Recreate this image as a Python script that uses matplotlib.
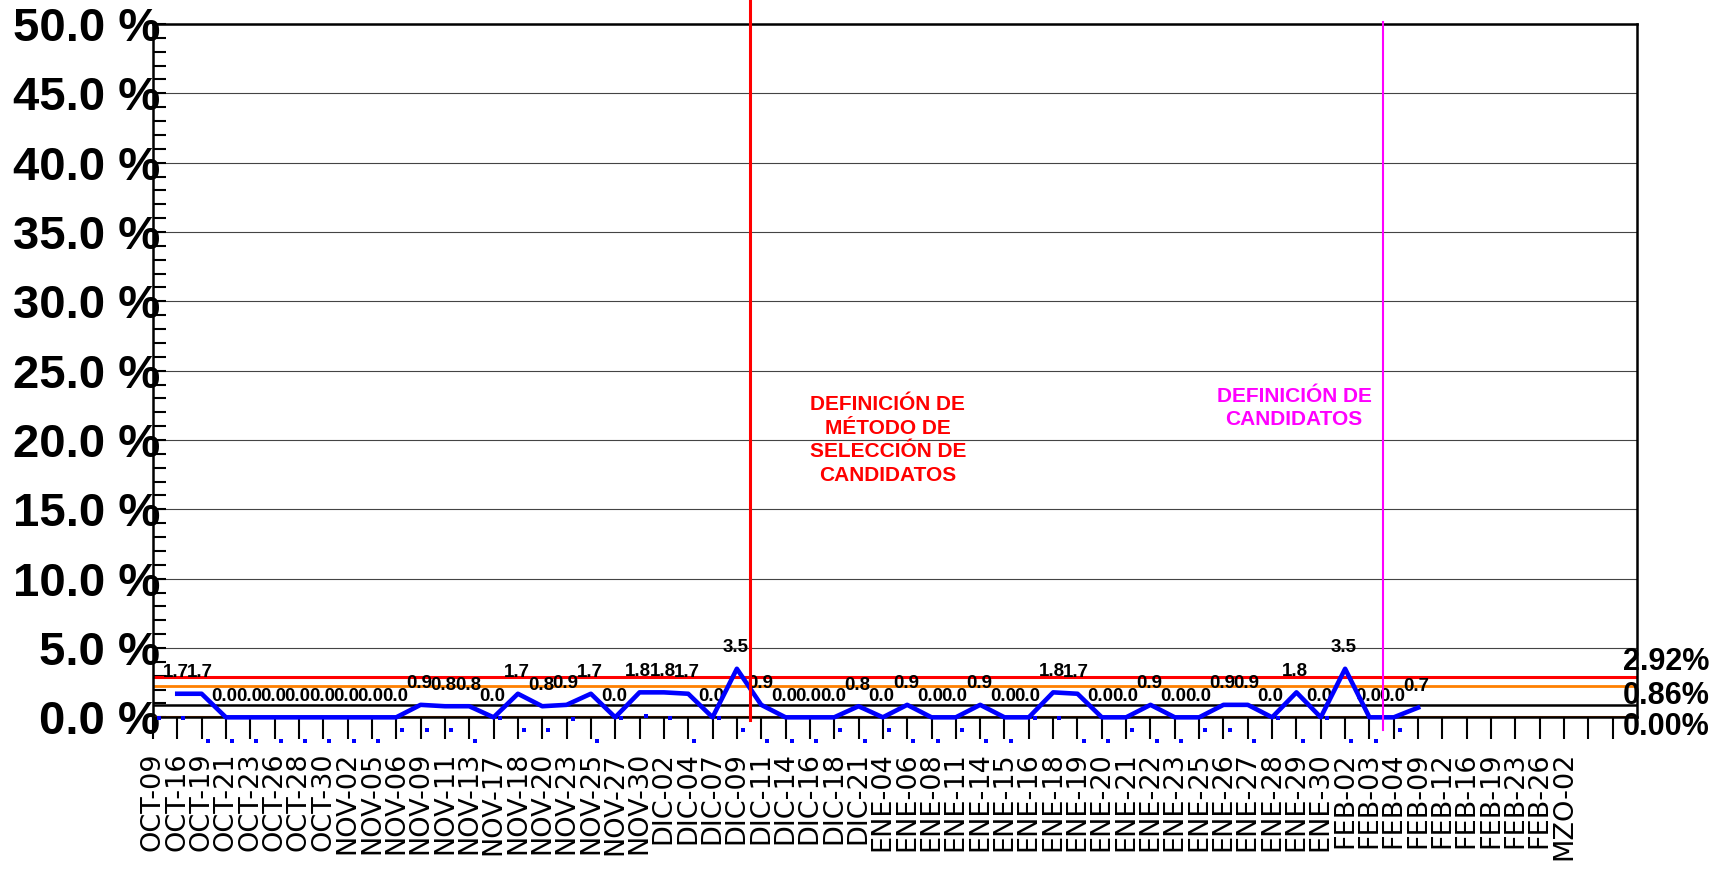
import matplotlib
matplotlib.use('Agg')
import matplotlib.pyplot as plt
from matplotlib.ticker import MultipleLocator
import numpy as np

plt.rcParams['font.family'] = ['Liberation Sans', 'DejaVu Sans']

# fechas del eje x
fechas = ['OCT-09', 'OCT-16', 'OCT-19', 'OCT-21', 'OCT-23', 'OCT-26', 'OCT-28', 'OCT-30',
          'NOV-02', 'NOV-05', 'NOV-06', 'NOV-09', 'NOV-11', 'NOV-13', 'NOV-17', 'NOV-18',
          'NOV-20', 'NOV-23', 'NOV-25', 'NOV-27', 'NOV-30',
          'DIC-02', 'DIC-04', 'DIC-07', 'DIC-09', 'DIC-11', 'DIC-14', 'DIC-16', 'DIC-18', 'DIC-21',
          'ENE-04', 'ENE-06', 'ENE-08', 'ENE-11', 'ENE-14', 'ENE-15', 'ENE-16', 'ENE-18',
          'ENE-19', 'ENE-20', 'ENE-21', 'ENE-22', 'ENE-23', 'ENE-25', 'ENE-26', 'ENE-27',
          'ENE-28', 'ENE-29', 'ENE-30',
          'FEB-02', 'FEB-03', 'FEB-04', 'FEB-09', 'FEB-12', 'FEB-16', 'FEB-19', 'FEB-23', 'FEB-26',
          'MZO-02']

# porcentaje por fecha (OCT-09 sin dato)
porcentaje = [np.nan, 1.7, 1.7, 0.0, 0.0, 0.0, 0.0, 0.0, 0.0, 0.0, 0.0,
              0.9, 0.8, 0.8, 0.0, 1.7, 0.8, 0.9, 1.7, 0.0, 1.8, 1.8, 1.7, 0.0, 3.5,
              0.9, 0.0, 0.0, 0.0, 0.8, 0.0, 0.9, 0.0, 0.0, 0.9, 0.0, 0.0, 1.8, 1.7,
              0.0, 0.0, 0.9, 0.0, 0.0, 0.9, 0.9, 0.0, 1.8, 0.0, 3.5, 0.0, 0.0, 0.7]

# marcas azules bajo el eje
marcas = [-0.05, -0.05, -1.7, -1.7, -1.7, -1.7, -1.7, -1.7, -1.7, -1.7, -0.9,
          -0.9, -0.9, -1.7, -0.05, -0.9, -0.9, -0.1, -1.7, -0.05, 0.1, -0.05, -1.7, -0.05,
          -0.9, -1.7, -1.7, -1.7, -0.9, -1.7, -0.9, -1.7, -1.7, -0.9, -1.7, -1.7, -0.05,
          -0.05, -1.7, -1.7, -0.9, -1.7, -1.7, -0.9, -0.9, -1.7, -0.05, -1.7, -0.05, -1.7,
          -1.7, -0.9]

lcs = 2.92
advertencia = 2.23
media = 0.86
lci = 0.00

yticks = [0, 5, 10, 15, 20, 25, 30, 35, 40, 45, 50]
ylabels = ['%.1f %%' % v for v in yticks]

fig = plt.figure(figsize=(17.32, 8.75), dpi=100)
ax = fig.add_axes([0.0883, 0.1802, 0.8569, 0.7924])
ax.set_xlim(0, 61)
ax.set_ylim(0, 50)

ax.set_yticks(yticks, ylabels)
ax.yaxis.set_minor_locator(MultipleLocator(1))
ax.yaxis.grid(True, color='#444444', lw=0.8)
ax.set_axisbelow(True)
ax.tick_params(axis='y', which='both', direction='in', length=9, width=1.5,
               pad=-5, labelsize=34)
for t in ax.get_yticklabels():
    t.set_fontweight('bold')

ax.set_xticks(np.arange(61), fechas + ['', ''])
ax.tick_params(axis='x', direction='out', length=16, width=1.5, pad=9,
               labelrotation=90, labelsize=19.5)
for t in ax.get_xticklabels():
    t.set_family('DejaVu Sans')

for s in ax.spines.values():
    s.set_linewidth(1.8)

ax.axhline(lci, color='#c05000', lw=1.5, zorder=2)
ax.axhline(media, color='black', lw=1.8, zorder=2)
ax.axhline(advertencia, color='#ff8000', lw=2, zorder=2)
ax.axhline(lcs, color='red', lw=2.2, zorder=2)

x = np.arange(len(porcentaje))
ax.plot(x, porcentaje, color='#0000ff', lw=3.3, zorder=5, clip_on=False)
for i, v in enumerate(porcentaje):
    if not np.isnan(v):
        ax.annotate('%.1f' % v, (i, v), xytext=(-1, 12), textcoords='offset points',
                    ha='center', va='baseline', fontsize=13.5, fontweight='bold', zorder=4)

xm = np.arange(len(marcas)) + 0.25
ax.scatter(xm, marcas, marker='s', s=7, color='#0000ff', linewidths=0, clip_on=False, zorder=3)

ax.axvline(24.55, ymin=-0.004, ymax=1.035, color='red', lw=2.2, clip_on=False, zorder=6)
ax.axvline(50.55, ymin=-0.018, ymax=1.003, color='#ff00ff', lw=1.5, clip_on=False, zorder=6)

ax.text(30.2, 20.0, 'DEFINICIÓN DE\nMÉTODO DE\nSELECCIÓN DE\nCANDIDATOS', color='red',
        ha='center', va='center', fontsize=15, fontweight='bold', linespacing=1.3)
ax.text(46.9, 22.3, 'DEFINICIÓN DE\nCANDIDATOS', color='#ff00ff',
        ha='center', va='center', fontsize=15, fontweight='bold', linespacing=1.3)

for val, dy in [(lcs, 11), (media, 7), (lci, -7)]:
    ax.annotate('%.2f%%' % val, xy=(1, val), xycoords=('axes fraction', 'data'),
                xytext=(-10, dy), textcoords='offset points', ha='left', va='center',
                fontsize=22, fontweight='bold', annotation_clip=False)

fig.savefig('out.png', dpi=100)
